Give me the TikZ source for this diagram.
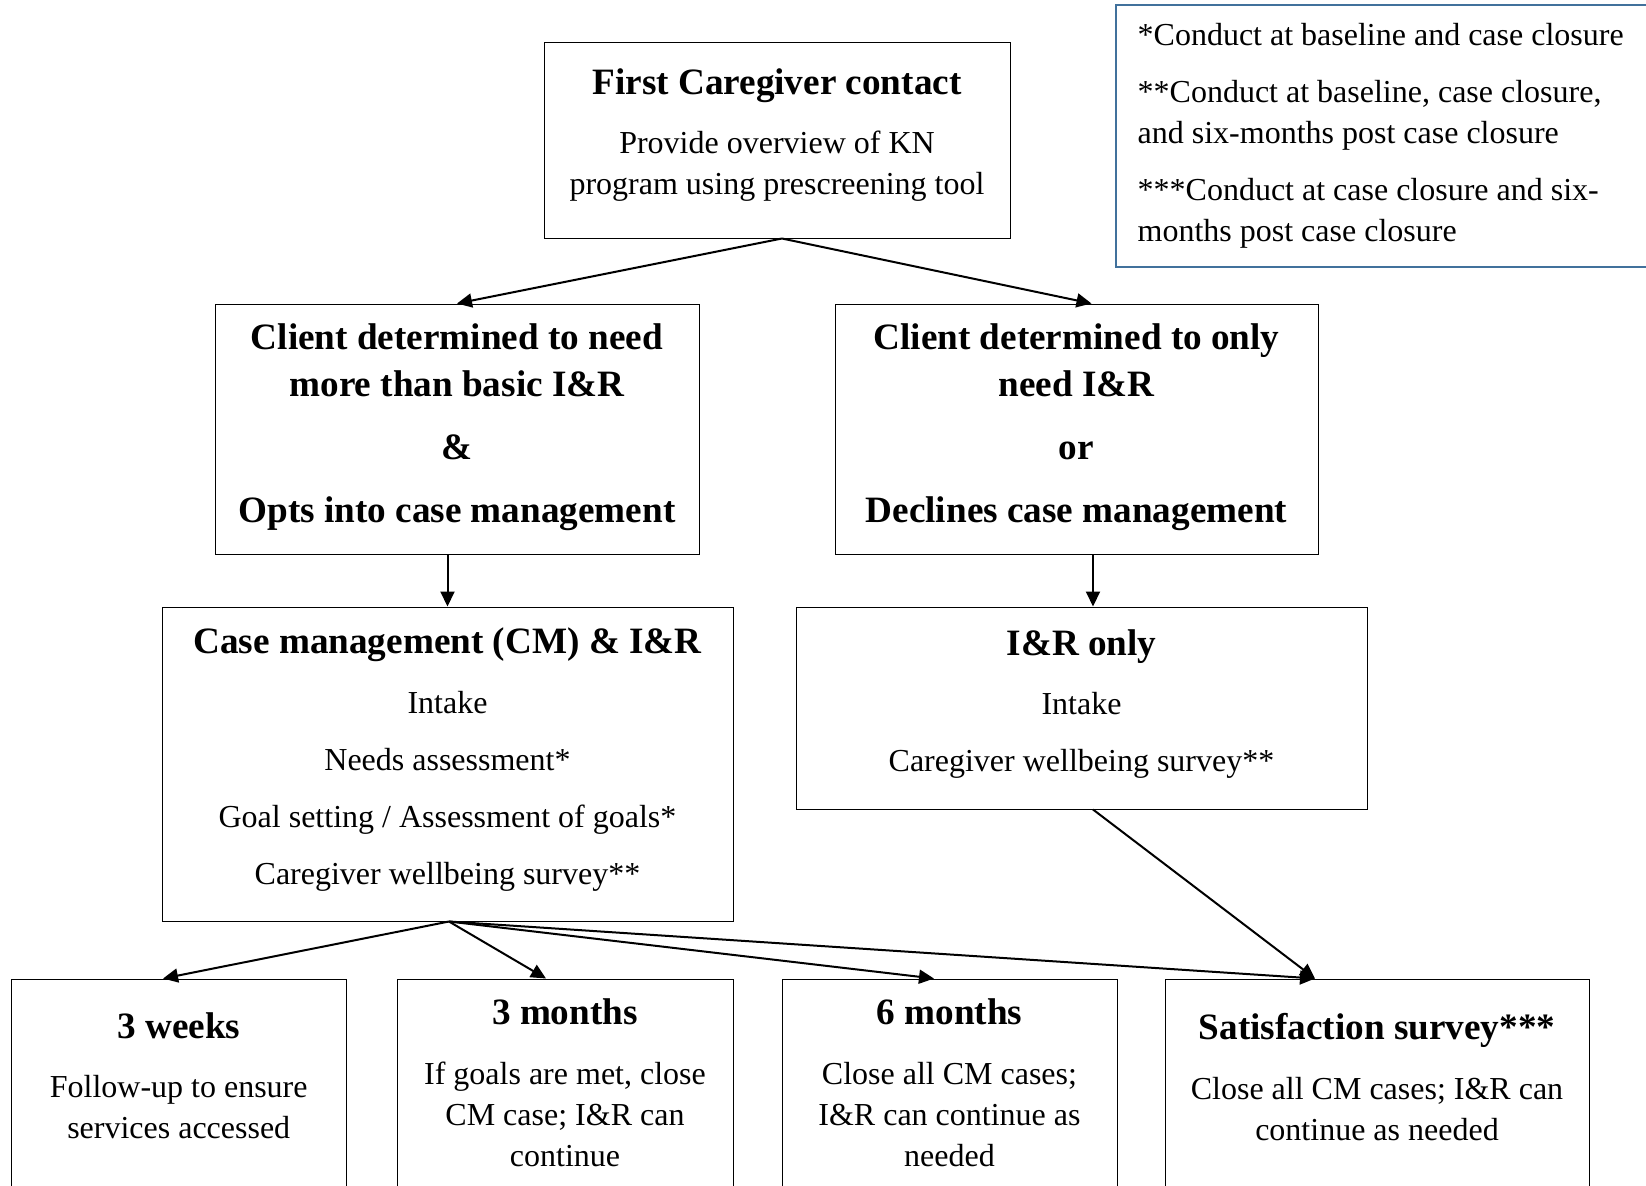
\documentclass[tikz,border=0pt]{standalone}
\usepackage{fontspec}
\setmainfont{Liberation Serif}
\usetikzlibrary{arrows.meta}

\definecolor{legendblue}{RGB}{65,113,156}
\newcommand{\hd}{\fontsize{18.6pt}{23.5pt}\selectfont\bfseries}
\newcommand{\bd}{\fontsize{16pt}{20.5pt}\selectfont}

\begin{document}
\begin{tikzpicture}[x=0.5pt,y=-0.5pt]
\tikzstyle{box} = [draw, line width=0.5pt, inner sep=0pt]
\tikzstyle{txt} = [inner sep=0pt, anchor=base, align=flush center, font=\bd]
\tikzstyle{go} = [-{Triangle[length=7.5pt,width=7pt]}, line width=1pt]

\fill[white] (0,0) rectangle (1646,1185);
\useasboundingbox (0,0) rectangle (1646,1185);

% boxes
\node[box, minimum width=233pt, minimum height=98pt] (first) at (777,140) {};
\node[box, minimum width=242pt, minimum height=125pt] (need) at (457,429) {};
\node[box, minimum width=241.5pt, minimum height=125pt] (only) at (1076.5,429) {};
\node[box, minimum width=285.5pt, minimum height=157pt] (cm) at (447.5,764) {};
\node[box, minimum width=285.5pt, minimum height=101pt] (ir) at (1081.5,708) {};
\node[box, minimum width=167.25pt, minimum height=110.5pt] (weeks) at (178.75,1089.5) {};
\node[box, minimum width=168pt, minimum height=110.5pt] (months3) at (565,1089.5) {};
\node[box, minimum width=167.5pt, minimum height=110.5pt] (months6) at (949.5,1089.5) {};
\node[box, minimum width=212pt, minimum height=110.5pt] (satis) at (1377,1089.5) {};
\node[box, draw=legendblue, line width=0.75pt, minimum width=272pt, minimum height=131pt] (legend) at (1388,136) {};

% texts
\node[txt, text width=233pt] (firsttxt) at ([yshift=-26.5pt]first.north)
{{\hd First Caregiver contact\par}\vspace{9pt}Provide overview of KN\\program using prescreening tool};
\node[txt, text width=242pt, font=\hd] (needtxt) at ([yshift=-23pt]need.north)
{Client determined to need\\more than basic I\&R\\[8pt]\&\\[8pt]Opts into case management};
\node[txt, text width=241.5pt, font=\hd] (onlytxt) at ([yshift=-23pt]only.north)
{Client determined to only\\need I\&R\\[8pt]or\\[8pt]Declines case management};
\node[txt, text width=285.5pt] (cmtxt) at ([yshift=-23.5pt]cm.north)
{{\hd Case management (CM) \& I\&R\par}\vspace{9.5pt}Intake\\[8pt]Needs assessment*\\[8pt]Goal setting / Assessment of goals*\\[8pt]Caregiver wellbeing survey**};
\node[txt, text width=285.5pt] (irtxt) at ([yshift=-24.5pt]ir.north)
{{\hd I\&R only\par}\vspace{9pt}Intake\\[8pt]Caregiver wellbeing survey**};
\node[txt, text width=167.25pt] (weekstxt) at ([yshift=-30pt]weeks.north)
{{\hd 3 weeks\par}\vspace{9pt}Follow-up to ensure\\services accessed};
\node[txt, text width=168pt] (months3txt) at ([yshift=-23pt]months3.north)
{{\hd 3 months\par}\vspace{9.5pt}If goals are met, close\\CM case; I\&R can\\continue};
\node[txt, text width=167.5pt] (months6txt) at ([yshift=-23pt]months6.north)
{{\hd 6 months\par}\vspace{9.5pt}Close all CM cases;\\I\&R can continue as\\needed};
\node[txt, text width=212pt] (satistxt) at ([yshift=-30.5pt]satis.north)
{{\hd Satisfaction survey***\par}\vspace{9.5pt}Close all CM cases; I\&R can\\continue as needed};
\node[txt, anchor=base west, align=flush left, text width=255pt] (legendtxt) at ([xshift=11pt,yshift=-20.5pt]legend.north west)
{*Conduct at baseline and case closure\\[8pt]**Conduct at baseline, case closure,\\and six-months post case closure\\[8pt]***Conduct at case closure and six-\\months post case closure};

% arrows
\coordinate (fork) at ([xshift=2.5pt]first.south);
\coordinate (onlyout) at ([xshift=8.25pt]only.south);
\coordinate (cmout) at ([xshift=0.75pt]cm.south);
\coordinate (irout) at ([xshift=5.75pt]ir.south);
\coordinate (satisin) at ([xshift=-31pt]satis.north);

\draw[go] (fork) -- (need.north);
\draw[go] (fork) -- ([xshift=7.5pt]only.north);
\draw[go] (need.south -| cm.north) -- (cm.north);
\draw[go] (onlyout) -- (onlyout |- ir.north);
\draw[go] (cmout) -- ([xshift=-7.85pt]weeks.north);
\draw[go] (cmout) -- ([xshift=-9.5pt]months3.north);
\draw[go] (cmout) -- ([xshift=-7.75pt]months6.north);
\draw[go] (cmout) -- (satisin);
\draw[go] (irout) -- (satisin);

\end{tikzpicture}
\end{document}
